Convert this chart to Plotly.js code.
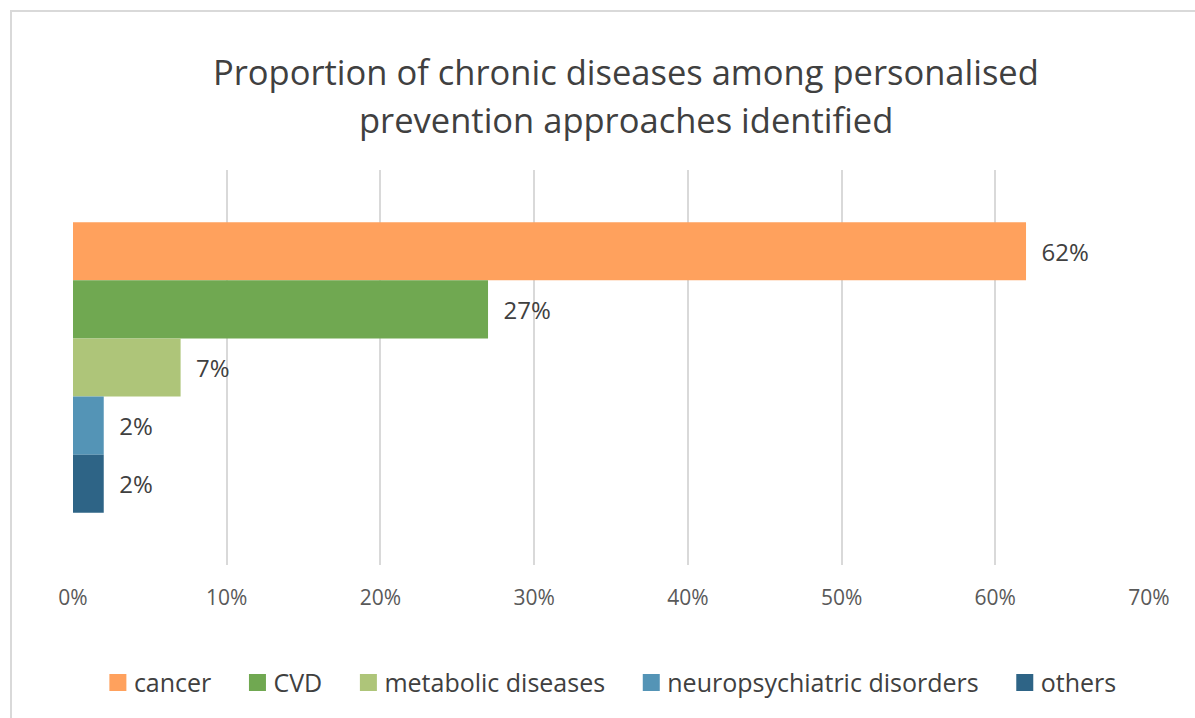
<!DOCTYPE html>
<html>
<head>
<meta charset="utf-8">
<script src="https://cdn.plot.ly/plotly-3.0.1.min.js"></script>
<style>
  html, body { margin: 0; padding: 0; background: #ffffff; overflow: hidden; }
  #frame {
    position: absolute; left: 10px; top: 10px;
    width: 1240px; height: 720px;
    border-left: 2px solid #d9d9d9; border-top: 2px solid #d9d9d9;
    background: #ffffff;
  }
  #chart { width: 1240px; height: 706px; }
</style>
</head>
<body>
<div id="frame"><div id="chart"></div></div>
<script>
// Share of chronic disease groups among the personalised prevention approaches
const categories = ["cancer", "CVD", "metabolic diseases", "neuropsychiatric disorders", "others"];
const shares = [0.62, 0.27, 0.07, 0.02, 0.02];
const colors = ["#FFA15D", "#70A851", "#AEC579", "#5494B6", "#2E6486"];
const titleLines = ["Proportion of chronic diseases among personalised", "prevention approaches identified"];
const tickValues = [0, 0.1, 0.2, 0.3, 0.4, 0.5, 0.6, 0.7];

const FONT = "'Open Sans', 'DejaVu Sans', sans-serif";
const NBSP = "\u00a0";
const THIN = "\u2009";

const traces = categories.map((name, i) => ({
  type: "bar",
  orientation: "h",
  name: name + NBSP + NBSP + THIN,
  y: [""],
  x: [shares[i]],
  marker: { color: colors[i] },
  texttemplate: NBSP + NBSP + "%{x:.0%}",
  textposition: "outside",
  constraintext: "none",
  cliponaxis: false,
  textfont: { family: FONT, size: 24, color: "#404040" },
  hoverinfo: "skip"
}));

const layout = {
  width: 1240,
  height: 706,
  margin: { l: 61, r: 103, t: 158, b: 151 },
  paper_bgcolor: "#ffffff",
  plot_bgcolor: "#ffffff",
  font: { family: FONT, color: "#404040" },
  barmode: "group",
  bargap: 0.2645,
  bargroupgap: 0,
  showlegend: true,
  legend: {
    orientation: "h",
    x: 0.505, xanchor: "center",
    y: -0.298, yanchor: "middle",
    font: { family: FONT, size: 25, color: "#404040" },
    traceorder: "normal"
  },
  xaxis: {
    range: [0, 0.7],
    tickvals: tickValues,
    tickformat: ".0%",
    showgrid: true,
    gridcolor: "#d9d9d9",
    gridwidth: 2,
    zeroline: false,
    showline: false,
    ticks: "",
    ticklabelstandoff: 18,
    tickfont: { family: FONT, size: 21, color: "#595959" },
    fixedrange: true
  },
  yaxis: {
    autorange: "reversed",
    showticklabels: false,
    showgrid: false,
    zeroline: false,
    showline: false,
    ticks: "",
    fixedrange: true
  },
  annotations: titleLines.map((t, i) => ({
    text: t,
    xref: "paper", yref: "paper",
    x: 0.514, y: i === 0 ? 1.25 : 1.128,
    xanchor: "center", yanchor: "middle",
    showarrow: false,
    font: { family: FONT, size: 34.5, color: "#404040" }
  }))
};

Plotly.newPlot("chart", traces, layout, { displayModeBar: false, staticPlot: true }).then(gd => {
  // larger square legend swatches, sitting close to their labels
  gd.querySelectorAll(".legend .legendpoints path").forEach(p => {
    const base = p.getAttribute("transform") || "";
    p.setAttribute("transform", base + " translate(4,0) scale(1.4167)");
  });
});
</script>
</body>
</html>
